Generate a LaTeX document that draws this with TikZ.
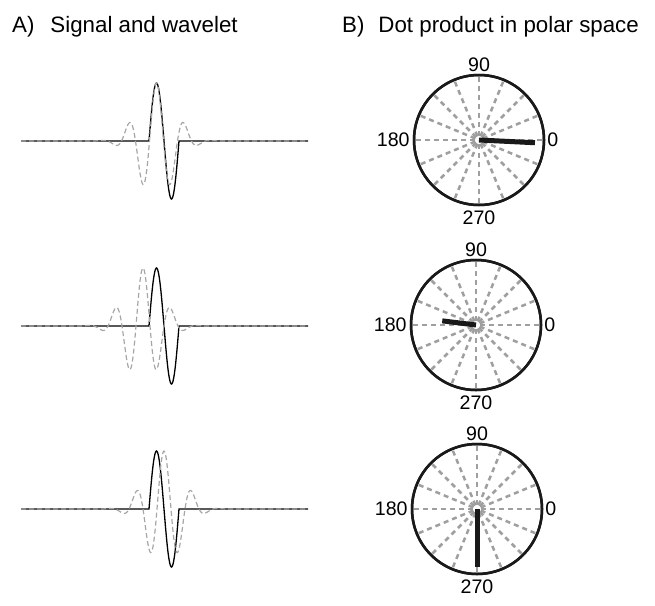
\documentclass[tikz,border=0pt]{standalone}
\usepackage{fontspec}
\setmainfont{Liberation Sans}
\usetikzlibrary{positioning}
\tikzset{
panel/.style=
    {anchor=base west,
    inner sep=0pt,
    font=\fontsize{22.3}{26}\selectfont
    },
num/.style=
    {inner sep=0pt,
    font=\fontsize{19.6}{22}\selectfont
    },
signal/.style=
    {black,
    line width=1.3pt
    },
wavelet/.style=
    {gray!70,
    line width=1.2pt,
    dash pattern=on 5pt off 3pt
    },
dial/.style=
    {circle,
    draw=black!90,
    line width=2.5pt,
    minimum size=130pt,
    inner sep=0pt
    },
spoke/.style=
    {gray!75,
    line width=2.5pt,
    dash pattern=on 5pt off 4pt
    },
phase/.style=
    {black!90,
    line width=5pt
    }}

\begin{document}
\begin{tikzpicture}[x=1pt,y=-1pt]
\useasboundingbox (0,0) rectangle (655,605);
\node[panel] (titleA) at (12,32) {A)\hspace{16pt}Signal and wavelet};
\node[panel] (titleB) at (342,32) {B)\hspace{14pt}Dot product in polar space};
% signal (solid) against the shifted wavelet (dashed)
\foreach \row/\yy/\cc in {1/141/156.5, 2/326/143, 3/509/164}{
  \draw[signal] (21,\yy) -- (149,\yy)
    -- plot[domain=149:179,samples=61] (\x,{\yy-58*sin(12*(\x-149))})
    -- (308,\yy);
  \draw[wavelet] plot[domain=21:308,samples=401]
    (\x,{\yy-58*cos(12.857*(\x-\cc))*exp(-min(0.5*((\x-\cc)/18)^2,20))});
}
% dot product in polar space
\foreach \row/\xx/\yy/\ang/\len in {1/479/140/2.8/56, 2/476/325/187/34, 3/477/509/90/58}{
  \node[dial] (dial\row) at (\xx,\yy) {};
  \foreach \a in {0,22.5,...,337.5}
    \draw[spoke] (dial\row.center) ++(\a:4) -- ++(\a:61);
  \node[dial] at (dial\row) {};
  \draw[phase] (dial\row.center) -- ++(\ang:\len);
  \node[num,above=2pt of dial\row] (top\row) {90};
  \node[num,below=4pt of dial\row] (bot\row) {270};
  \node[num,left=3pt of dial\row] (lft\row) {180};
  \node[num,right=2pt of dial\row] (rgt\row) {0};
}
\end{tikzpicture}
\end{document}
